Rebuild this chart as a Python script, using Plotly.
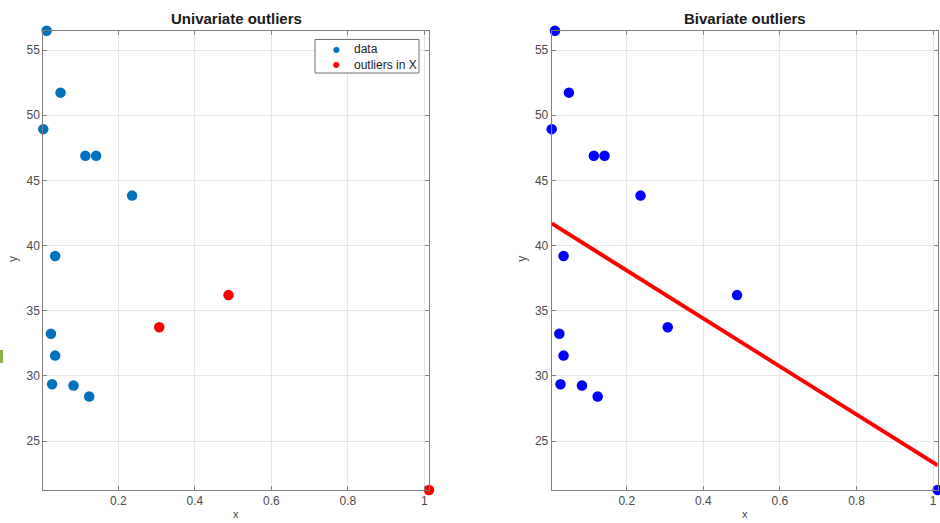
import numpy as np
import plotly.graph_objects as go

# ---- data ----
x_data = [0.0126, 0.049, 0.004, 0.114, 0.142, 0.236, 0.035, 0.024, 0.035, 0.027, 0.083, 0.124]
y_data = [56.48, 51.73, 48.93, 46.89, 46.89, 43.83, 39.20, 33.24, 31.56, 29.36, 29.26, 28.42]
x_out = [0.307, 0.488, 1.012]
y_out = [33.73, 36.20, 21.25]

legend_labels = ["data", "outliers in X"]
titles = ["Univariate outliers", "Bivariate outliers"]

x_all = np.array(x_data + x_out)
y_all = np.array(y_data + y_out)
slope, intercept = np.polyfit(x_all, y_all, 1)
x_fit = np.array([x_all.min(), x_all.max()])
y_fit = intercept + slope * x_fit

x_ticks = [0.2, 0.4, 0.6, 0.8, 1.0]
x_ticktext = ["0.2", "0.4", "0.6", "0.8", "1"]
y_ticks = [25, 30, 35, 40, 45, 50, 55]

W, H = 940, 523
FONT = "Liberation Sans, Arial, Helvetica, sans-serif"
AX = "#808080"
GRID = "#e6e6e6"
TICKC = "#4a4a4a"
BLUE = "#0072BD"
RED = "#FF0000"
MS = 10.5

fig = go.Figure()

# left: univariate
fig.add_trace(go.Scatter(x=x_data, y=y_data, mode="markers", xaxis="x", yaxis="y",
                         marker=dict(color=BLUE, size=MS), cliponaxis=False, showlegend=False))
fig.add_trace(go.Scatter(x=x_out, y=y_out, mode="markers", xaxis="x", yaxis="y",
                         marker=dict(color=RED, size=MS), cliponaxis=False, showlegend=False))

# right: bivariate
fig.add_trace(go.Scatter(x=list(x_all), y=list(y_all), mode="markers", xaxis="x2", yaxis="y2",
                         marker=dict(color="#0000FF", size=MS), cliponaxis=False, showlegend=False))
fig.add_trace(go.Scatter(x=x_fit, y=y_fit, mode="lines", xaxis="x2", yaxis="y2",
                         line=dict(color=RED, width=4), showlegend=False))

xr = [float(x_all.min()), float(x_all.max())]
yr = [float(y_all.min()), float(y_all.max())]

ydom = [1 - 490 / H, 1 - 30.7 / H]
axcommon = dict(showline=True, linecolor=AX, linewidth=1, mirror="ticks", ticks="inside",
                ticklen=4, tickcolor=AX, showgrid=True, gridcolor=GRID, gridwidth=1,
                zeroline=False, tickfont=dict(family=FONT, size=12, color=TICKC))

fig.update_layout(
    width=W, height=H, margin=dict(l=0, r=0, t=0, b=0),
    paper_bgcolor="white", plot_bgcolor="white",
    font=dict(family=FONT), showlegend=False,
    xaxis=dict(domain=[43.3 / W, 429 / W], range=xr, tickvals=x_ticks, ticktext=x_ticktext,
               anchor="y", **axcommon),
    yaxis=dict(domain=ydom, range=yr, tickvals=y_ticks, anchor="x", **axcommon),
    xaxis2=dict(domain=[551.7 / W, 937.7 / W], range=xr, tickvals=x_ticks, ticktext=x_ticktext,
                anchor="y2", **axcommon),
    yaxis2=dict(domain=ydom, range=yr, tickvals=y_ticks, anchor="x2", **axcommon),
)

ann = []
for cx, title in [((43.3 + 429) / 2, titles[0]), ((551.7 + 937.7) / 2, titles[1])]:
    ann.append(dict(x=cx / W, y=1 - 18 / H, xref="paper", yref="paper", text="<b>" + title + "</b>",
                    showarrow=False, xanchor="center", yanchor="middle",
                    font=dict(family=FONT, size=15, color="#1a1a1a")))
    ann.append(dict(x=cx / W, y=1 - 521.5 / H, xref="paper", yref="paper", text="x",
                    showarrow=False, xanchor="center", yanchor="bottom",
                    font=dict(family=FONT, size=11, color="#444444")))
for lx in [13, 521.7]:
    ann.append(dict(x=lx / W, y=1 - 259 / H, xref="paper", yref="paper", text="y", textangle=-90,
                    showarrow=False, xanchor="center", yanchor="middle",
                    font=dict(family=FONT, size=12, color="#555555")))

# manual legend (MATLAB style)
fig.add_shape(type="rect", xref="paper", yref="paper", x0=315 / W, x1=419 / W,
              y0=1 - 73 / H, y1=1 - 39.5 / H, fillcolor="white", line=dict(color="#707070", width=1))
for i, (lab, col) in enumerate(zip(legend_labels, [BLUE, RED])):
    yy = 1 - (49.3 + 15.3 * i) / H
    ann.append(dict(x=336 / W, y=yy, xref="paper", yref="paper", text="●", showarrow=False,
                    xanchor="center", yanchor="middle", font=dict(family="DejaVu Sans", size=8, color=col)))
    ann.append(dict(x=352 / W, y=yy, xref="paper", yref="paper", text=lab, showarrow=False,
                    xanchor="left", yanchor="middle", font=dict(family=FONT, size=12, color="#222222")))
fig.update_layout(annotations=ann)

# small green mark at the left edge of the picture
fig.add_shape(type="rect", xref="paper", yref="paper", x0=0, x1=3 / W,
              y0=1 - 363 / H, y1=1 - 350 / H, fillcolor="#8cb34a", line=dict(width=0))

fig.write_html("out.html", config={"displayModeBar": False},
               post_script="document.body.style.margin='0';document.body.style.overflow='hidden';")
